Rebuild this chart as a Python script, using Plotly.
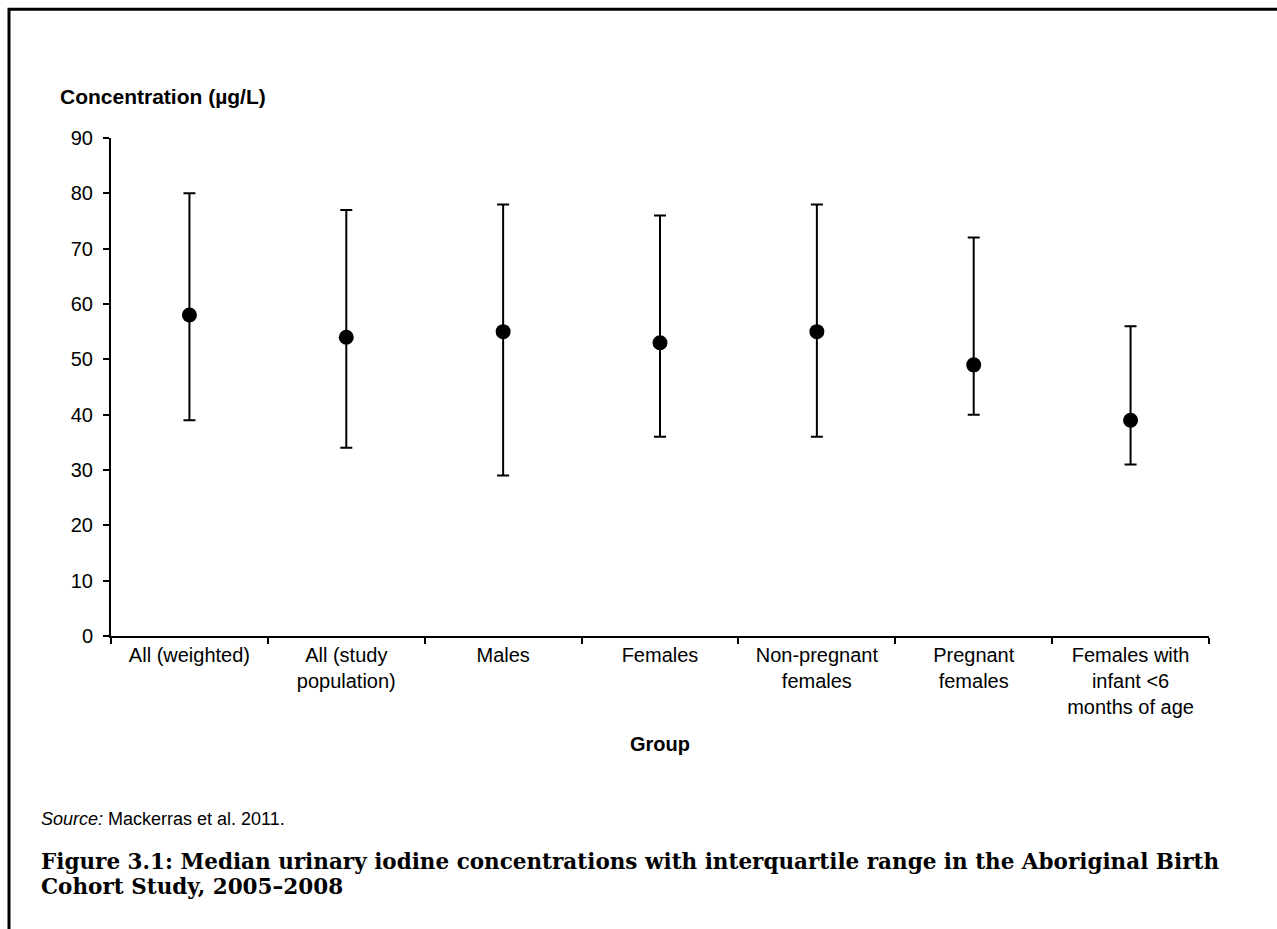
import plotly.graph_objects as go

groups = ["All (weighted)", "All (study<br>population)", "Males", "Females",
          "Non-pregnant<br>females", "Pregnant<br>females",
          "Females with<br>infant <6<br>months of age"]
median = [58, 54, 55, 53, 55, 49, 39]
q1 = [39, 34, 29, 36, 36, 40, 31]
q3 = [80, 77, 78, 76, 78, 72, 56]

y_ticks = [0, 10, 20, 30, 40, 50, 60, 70, 80, 90]

W, H = 1277, 929
L, R, T, B = 111, 1209, 138, 636.5


def px(x):
    return (x - L) / (R - L)


def py(y):
    return (B - y) / (B - T)


upper = [h - m for h, m in zip(q3, median)]
lower = [m - l for m, l in zip(median, q1)]

fig = go.Figure()
fig.add_trace(go.Scatter(
    x=groups, y=median, mode="markers",
    marker=dict(color="black", size=15),
    error_y=dict(type="data", symmetric=False, array=upper, arrayminus=lower,
                 color="black", thickness=2, width=6),
    showlegend=False, cliponaxis=False,
))

axis_font = dict(family="Liberation Sans, Arial, sans-serif", size=20, color="black")

fig.update_layout(
    width=W, height=H,
    margin=dict(l=L, r=W - R, t=T, b=H - B, pad=0),
    paper_bgcolor="white", plot_bgcolor="white",
    font=axis_font,
    xaxis=dict(
        type="category", range=[-0.5, 6.5], showgrid=False, zeroline=False,
        showline=True, linecolor="black", linewidth=2,
        ticks="outside", tickson="boundaries", ticklen=6, tickwidth=2, tickcolor="black",
        tickfont=axis_font, fixedrange=True,
    ),
    yaxis=dict(
        range=[0, 90], tickvals=y_ticks, showgrid=False, zeroline=False,
        showline=True, linecolor="black", linewidth=2,
        ticks="outside", ticklen=6, tickwidth=2, tickcolor="black",
        tickfont=axis_font, ticklabelstandoff=6, fixedrange=True,
    ),
)

annotations = [
    dict(text="<b>Concentration (µg/L)</b>", x=px(58), y=py(96), xanchor="left", yanchor="middle",
         font=dict(family="Liberation Sans, Arial, sans-serif", size=21, color="black")),
    dict(text="<b>Group</b>", x=px(660), y=py(745), xanchor="center", yanchor="middle",
         font=dict(family="Liberation Sans, Arial, sans-serif", size=20, color="black")),
    dict(text="<i>Source:</i> Mackerras et al. 2011.", x=px(39), y=py(820), xanchor="left", yanchor="middle",
         font=dict(family="Liberation Sans, Arial, sans-serif", size=18, color="black")),
    dict(text="<b>Figure 3.1: Median urinary iodine concentrations with interquartile range in the Aboriginal Birth</b>",
         x=px(39), y=py(862), xanchor="left", yanchor="middle",
         font=dict(family="DejaVu Serif, serif", size=21.5, color="black")),
    dict(text="<b>Cohort Study, 2005–2008</b>",
         x=px(39), y=py(887), xanchor="left", yanchor="middle",
         font=dict(family="DejaVu Serif, serif", size=21.5, color="black")),
]
for a in annotations:
    a.update(xref="paper", yref="paper", showarrow=False)
fig.update_layout(annotations=annotations)

# page frame
fig.add_shape(type="path",
              path=f"M {px(9)} {py(935)} L {px(9)} {py(9)} L {px(1280)} {py(9)}",
              xref="paper", yref="paper", line=dict(color="black", width=3))

fig.write_html("out.html")
